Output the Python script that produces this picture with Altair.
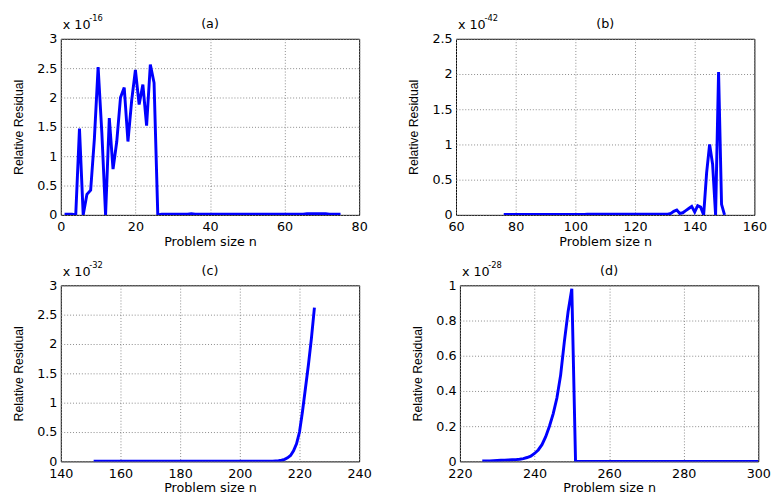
import altair as alt
import pandas as pd

# ---- data ----
n_a = list(range(1, 76))
r_a = [0.01, 0.01, 0.01, 0.0, 1.47, 0.0, 0.35, 0.42, 1.3, 2.52,
       1.4, 0.0, 1.65, 0.78, 1.25, 2.0, 2.17, 1.25, 1.95, 2.47,
       1.88, 2.22, 1.52, 2.56, 2.25, 0.0, 0.01, 0.01, 0.01, 0.01,
       0.01, 0.01, 0.01, 0.01, 0.02, 0.01, 0.01, 0.01, 0.01, 0.01,
       0.01, 0.01, 0.01, 0.01, 0.01, 0.01, 0.01, 0.01, 0.01, 0.01,
       0.01, 0.01, 0.01, 0.01, 0.01, 0.01, 0.01, 0.01, 0.01, 0.01,
       0.01, 0.01, 0.01, 0.01, 0.01, 0.02, 0.02, 0.02, 0.02, 0.02,
       0.02, 0.01, 0.01, 0.01, 0.01]

n_b = list(range(76, 151))
r_b = [0.005, 0.005, 0.005, 0.005, 0.005, 0.005, 0.005, 0.005, 0.005, 0.005,
       0.005, 0.005, 0.005, 0.005, 0.005, 0.005, 0.005, 0.005, 0.005, 0.005,
       0.005, 0.005, 0.005, 0.005, 0.005, 0.005, 0.005, 0.005, 0.01, 0.01,
       0.01, 0.008, 0.008, 0.01, 0.01, 0.008, 0.01, 0.01, 0.01, 0.008,
       0.01, 0.01, 0.01, 0.01, 0.008, 0.01, 0.01, 0.01, 0.01, 0.01,
       0.01, 0.01, 0.01, 0.01, 0.01, 0.01, 0.02, 0.05, 0.07, 0.02,
       0.03, 0.06, 0.09, 0.12, 0.04, 0.13, 0.11, 0.0, 0.6, 1.0,
       0.72, 0.0, 2.03, 0.15, 0.0]

n_c = list(range(151, 226))
r_c = [0.005, 0.005, 0.005, 0.005, 0.005, 0.005, 0.005, 0.005, 0.005, 0.005,
       0.005, 0.005, 0.005, 0.005, 0.005, 0.005, 0.005, 0.005, 0.005, 0.005,
       0.005, 0.005, 0.005, 0.005, 0.005, 0.005, 0.005, 0.005, 0.005, 0.005,
       0.005, 0.005, 0.005, 0.005, 0.005, 0.005, 0.005, 0.005, 0.005, 0.005,
       0.005, 0.005, 0.005, 0.005, 0.005, 0.005, 0.005, 0.005, 0.005, 0.005,
       0.005, 0.005, 0.005, 0.005, 0.005, 0.005, 0.005, 0.005, 0.005, 0.005,
       0.005, 0.008, 0.01, 0.02, 0.035, 0.06, 0.1, 0.18, 0.3, 0.5,
       0.85, 1.25, 1.65, 2.1, 2.62]

n_d = list(range(226, 301))
r_d = [0.002, 0.003, 0.003, 0.004, 0.005, 0.006, 0.007, 0.008, 0.009, 0.01,
       0.012, 0.016, 0.022, 0.03, 0.045, 0.065, 0.095, 0.14, 0.2, 0.27,
       0.36, 0.49, 0.68, 0.85, 0.98, 0.0, 0.0, 0.0, 0.0, 0.0,
       0.0, 0.0, 0.0, 0.0, 0.0, 0.0, 0.0, 0.0, 0.0, 0.0,
       0.0, 0.0, 0.0, 0.0, 0.0, 0.0, 0.0, 0.0, 0.0, 0.0,
       0.0, 0.0, 0.0, 0.0, 0.0, 0.0, 0.0, 0.0, 0.0, 0.0,
       0.0, 0.0, 0.0, 0.0, 0.0, 0.0, 0.0, 0.0, 0.0, 0.0,
       0.0, 0.0, 0.0, 0.0, 0.0]

panels = [
    dict(n=n_a, r=r_a, label="(a)", exp="-16", xdom=[0, 80], xticks=[0, 20, 40, 60, 80],
         ydom=[0, 3], yticks=[0, 0.5, 1, 1.5, 2, 2.5, 3]),
    dict(n=n_b, r=r_b, label="(b)", exp="-42", xdom=[60, 160], xticks=[60, 80, 100, 120, 140, 160],
         ydom=[0, 2.5], yticks=[0, 0.5, 1, 1.5, 2, 2.5]),
    dict(n=n_c, r=r_c, label="(c)", exp="-32", xdom=[140, 240], xticks=[140, 160, 180, 200, 220, 240],
         ydom=[0, 3], yticks=[0, 0.5, 1, 1.5, 2, 2.5, 3]),
    dict(n=n_d, r=r_d, label="(d)", exp="-28", xdom=[220, 300], xticks=[220, 240, 260, 280, 300],
         ydom=[0, 1], yticks=[0, 0.2, 0.4, 0.6, 0.8, 1]),
]

FONT = "DejaVu Sans"
BLUE = "#0000ff"
W, H = 305, 180
YLAB = "datum.value == floor(datum.value) ? format(datum.value, 'd') : format(datum.value, '.1f')"


def make_panel(p):
    df = pd.DataFrame({"n": p["n"], "r": p["r"]})
    line = alt.Chart(df).mark_line(color=BLUE, strokeWidth=3, clip=True).encode(
        x=alt.X("n:Q",
                scale=alt.Scale(domain=p["xdom"], nice=False, zero=False),
                axis=alt.Axis(values=p["xticks"], title="Problem size n", format="d",
                              labelFlush=False, labelPadding=6, titlePadding=2)),
        y=alt.Y("r:Q",
                scale=alt.Scale(domain=p["ydom"], nice=False, zero=False),
                axis=alt.Axis(values=p["yticks"], title="Relative Residual", labelExpr=YLAB,
                              labelPadding=4, titleX=-36, titleFont="Liberation Sans",
                              titleFontSize=12.5)),
    )
    txt = pd.DataFrame({"t": ["x 10"], "e": [p["exp"]], "l": [p["label"]]})
    base = alt.Chart(txt)
    e1 = base.mark_text(align="left", baseline="alphabetic", fontSize=13, font=FONT).encode(
        x=alt.value(2), y=alt.value(-10), text="t:N")
    e2 = base.mark_text(align="left", baseline="alphabetic", fontSize=8.5, font=FONT).encode(
        x=alt.value(29), y=alt.value(-18), text="e:N")
    lab = base.mark_text(align="center", baseline="alphabetic", fontSize=13, font=FONT).encode(
        x=alt.value(W / 2), y=alt.value(-11), text="l:N")
    return alt.layer(line, e1, e2, lab).properties(width=W, height=H)


charts = [make_panel(p) for p in panels]
top = alt.hconcat(charts[0], charts[1], spacing=40)
bottom = alt.hconcat(charts[2], charts[3], spacing=40)
chart = alt.vconcat(top, bottom, spacing=11).properties(
    padding={"left": 4, "top": 0, "right": 0, "bottom": 0}
).configure_view(
    stroke="#000000", strokeWidth=1
).configure_axis(
    domain=False, ticks=False,
    labelFont=FONT, labelFontSize=13, labelColor="#000000",
    titleFont=FONT, titleFontSize=13, titleColor="#000000", titleFontWeight="normal",
    grid=True, gridColor="#888888", gridDash=[1, 2], gridWidth=1, gridOpacity=1,
)

chart.save("out.html", embed_options={"renderer": "svg", "actions": False})
